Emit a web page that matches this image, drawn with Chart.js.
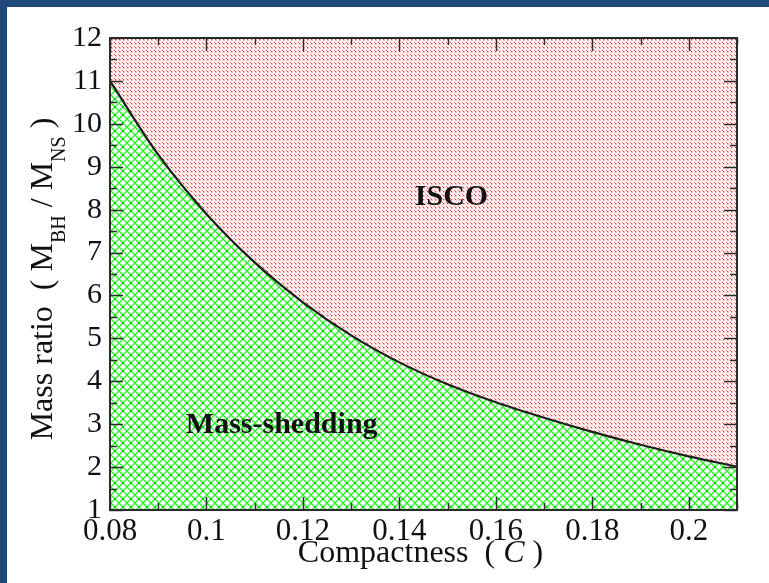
<!DOCTYPE html>
<html>
<head>
<meta charset="utf-8">
<script src="https://cdn.jsdelivr.net/npm/chart.js@4/dist/chart.umd.min.js"></script>
<style>
  html, body { margin: 0; padding: 0; background: #1f497d; }
  #frame { position: absolute; left: 7px; top: 7px; width: 762px; height: 576px; background: #fff; }
  #chart { display: block; }
</style>
</head>
<body>
<div id="frame"><canvas id="chart" width="762" height="576"></canvas></div>
<script>
  // compactness C vs. mass ratio Q on the dividing curve
  const compactness = [0.08, 0.09, 0.10, 0.11, 0.12, 0.13, 0.14, 0.15, 0.16, 0.17, 0.18, 0.19, 0.20, 0.21];
  const massRatio = [11.0, 9.28, 7.90, 6.77, 5.84, 5.07, 4.44, 3.93, 3.51, 3.15, 2.82, 2.52, 2.25, 2.01];

  const xTickValues = [0.08, 0.10, 0.12, 0.14, 0.16, 0.18, 0.20];
  const xTickLabels = ["0.08", "0.1", "0.12", "0.14", "0.16", "0.18", "0.2"];
  const xMinorTicks = [0.09, 0.11, 0.13, 0.15, 0.17, 0.19, 0.21];
  const yTickValues = [1, 2, 3, 4, 5, 6, 7, 8, 9, 10, 11, 12];
  const yMinorTicks = [1.5, 2.5, 3.5, 4.5, 5.5, 6.5, 7.5, 8.5, 9.5, 10.5, 11.5];

  const regionLabels = [
    { text: "ISCO", x: 0.1508, y: 8.30 },
    { text: "Mass-shedding", x: 0.1156, y: 2.98 }
  ];

  const serif = "'Liberation Serif', 'DejaVu Serif', serif";

  function makePattern(size, paint) {
    const c = document.createElement("canvas");
    c.width = size;
    c.height = size;
    const g = c.getContext("2d");
    g.fillStyle = "#ffffff";
    g.fillRect(0, 0, size, size);
    paint(g);
    return document.getElementById("chart").getContext("2d").createPattern(c, "repeat");
  }

  // green cross-hatch below the curve
  const hatchGreen = makePattern(8, (g) => {
    g.strokeStyle = "#33f033";
    g.lineWidth = 1.4;
    g.beginPath();
    g.moveTo(-1, -1); g.lineTo(9, 9);
    g.moveTo(9, -1); g.lineTo(-1, 9);
    g.moveTo(-1, 7); g.lineTo(1, 9);
    g.moveTo(7, -1); g.lineTo(9, 1);
    g.moveTo(-1, 1); g.lineTo(1, -1);
    g.moveTo(7, 9); g.lineTo(9, 7);
    g.stroke();
    g.fillStyle = "#00d000";
    g.fillRect(3, 3, 2, 2);
  });

  // red dotted pattern above the curve
  const dotsRed = makePattern(4, (g) => {
    g.fillStyle = "#ffc0c0";
    g.fillRect(0, 0, 2, 2);
    g.fillStyle = "#ff2e2e";
    g.fillRect(0, 0, 1, 1);
    g.fillStyle = "#ffe4e4";
    g.fillRect(2, 2, 2, 2);
    g.fillStyle = "#ff7a7a";
    g.fillRect(3, 3, 1, 1);
  });

  const axesFrame = {
    id: "axesFrame",
    afterDraw(chart) {
      const ctx = chart.ctx;
      const a = chart.chartArea;
      const xs = chart.scales.x;
      const ys = chart.scales.y;
      ctx.save();
      ctx.strokeStyle = "#2b2b2b";
      ctx.lineWidth = 1.5;
      ctx.beginPath();
      const tick = (vals, len) => {
        vals.forEach((v) => {
          const px = Math.round(xs.getPixelForValue(v)) + 0.5;
          ctx.moveTo(px, a.bottom);
          ctx.lineTo(px, a.bottom - len);
          ctx.moveTo(px, a.top);
          ctx.lineTo(px, a.top + len);
        });
      };
      const ytick = (vals, len) => {
        vals.forEach((v) => {
          const py = Math.round(ys.getPixelForValue(v)) + 0.5;
          ctx.moveTo(a.left, py);
          ctx.lineTo(a.left + len, py);
          ctx.moveTo(a.right, py);
          ctx.lineTo(a.right - len, py);
        });
      };
      tick(xTickValues, 13);
      tick(xMinorTicks, 7);
      ytick(yTickValues, 13);
      ytick(yMinorTicks, 7);
      ctx.stroke();
      ctx.lineWidth = 2;
      ctx.strokeRect(a.left, a.top, a.right - a.left, a.bottom - a.top);

      // region labels
      ctx.fillStyle = "#111";
      ctx.font = "bold 30px " + serif;
      ctx.textAlign = "center";
      ctx.textBaseline = "middle";
      regionLabels.forEach((l) => {
        ctx.fillText(l.text, xs.getPixelForValue(l.x), ys.getPixelForValue(l.y));
      });

      // x title with italic C
      ctx.textBaseline = "alphabetic";
      ctx.textAlign = "left";
      const parts = [
        ["Compactness  ( ", "32px " + serif],
        ["C", "italic 32px " + serif],
        [" )", "32px " + serif]
      ];
      let total = 0;
      parts.forEach((p) => { ctx.font = p[1]; total += ctx.measureText(p[0]).width; });
      let cx = (a.left + a.right) / 2 - total / 2 - 3;
      parts.forEach((p) => {
        ctx.font = p[1];
        ctx.fillText(p[0], cx, 555);
        cx += ctx.measureText(p[0]).width;
      });

      // y title with subscripts
      const yparts = [
        ["Mass ratio  ( M", "32px " + serif, 0],
        ["BH", "20px " + serif, 13],
        [" / M", "32px " + serif, 0],
        ["NS", "20px " + serif, 13],
        [" )", "32px " + serif, 0]
      ];
      ctx.translate(45, (a.top + a.bottom) / 2 + 5);
      ctx.rotate(-Math.PI / 2);
      total = 0;
      yparts.forEach((p) => { ctx.font = p[1]; total += ctx.measureText(p[0]).width; });
      cx = -total / 2;
      yparts.forEach((p) => {
        ctx.font = p[1];
        ctx.fillText(p[0], cx, p[2]);
        cx += ctx.measureText(p[0]).width;
      });
      ctx.restore();
    }
  };

  new Chart(document.getElementById("chart"), {
    type: "line",
    data: {
      labels: compactness,
      datasets: [
        {
          data: compactness.map((c, i) => ({ x: c, y: massRatio[i] })),
          borderColor: "#1e1e1e",
          borderWidth: 2.2,
          pointRadius: 0,
          cubicInterpolationMode: "monotone",
          backgroundColor: hatchGreen,
          fill: "start"
        },
        {
          data: compactness.map((c, i) => ({ x: c, y: massRatio[i] })),
          borderWidth: 0,
          borderColor: "rgba(0,0,0,0)",
          pointRadius: 0,
          cubicInterpolationMode: "monotone",
          backgroundColor: dotsRed,
          fill: "end"
        }
      ]
    },
    options: {
      responsive: false,
      animation: false,
      layout: { padding: { left: 0, top: 31, right: 32, bottom: 0 } },
      plugins: { legend: { display: false }, tooltip: { enabled: false } },
      scales: {
        x: {
          type: "linear",
          min: 0.08,
          max: 0.21,
          grid: { display: false, drawTicks: false },
          border: { display: false },
          afterBuildTicks: (s) => { s.ticks = xTickValues.map((v) => ({ value: v })); },
          afterFit: (s) => { s.height = 73; },
          ticks: {
            padding: 3,
            color: "#111",
            font: { family: serif, size: 31 },
            maxRotation: 0,
            autoSkip: false,
            callback: (v) => xTickLabels[xTickValues.indexOf(v)]
          }
        },
        y: {
          min: 1,
          max: 12,
          grid: { display: false, drawTicks: false },
          border: { display: false },
          afterBuildTicks: (s) => { s.ticks = yTickValues.map((v) => ({ value: v })); },
          afterFit: (s) => { s.width = 103; },
          ticks: {
            padding: 8,
            color: "#111",
            font: { family: serif, size: 30 },
            autoSkip: false
          }
        }
      }
    },
    plugins: [axesFrame]
  });
</script>
</body>
</html>
